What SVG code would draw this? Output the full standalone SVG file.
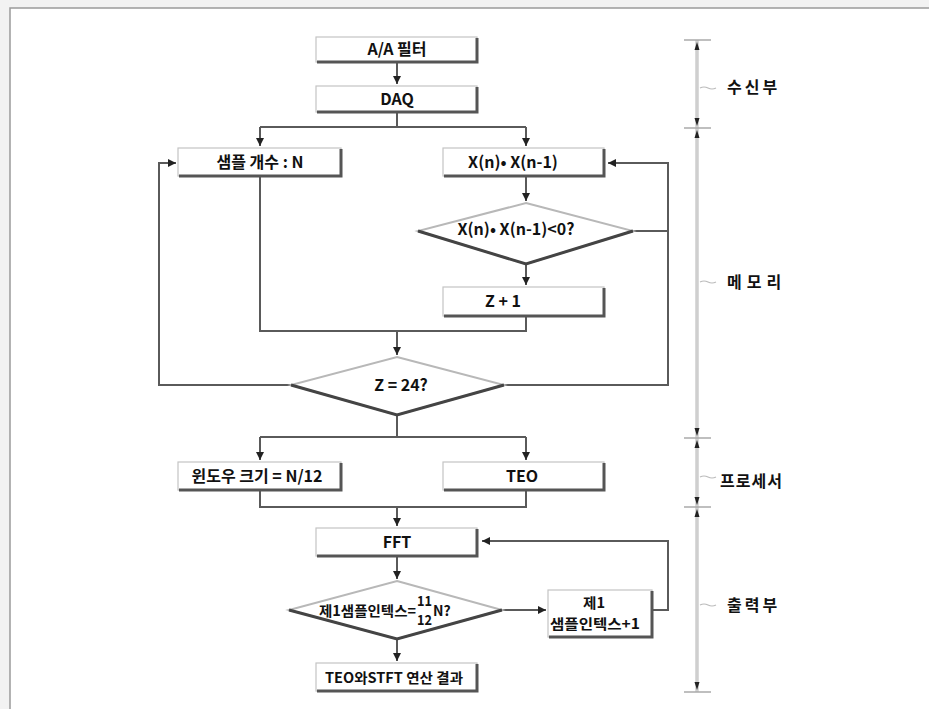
<svg xmlns="http://www.w3.org/2000/svg" width="929" height="709" viewBox="0 0 929 709">
<style>
.t{font-family:"Noto Sans CJK KR","Noto Sans",sans-serif;font-weight:bold;font-size:16px;fill:#111;text-anchor:middle}
.s{font-family:"Noto Sans CJK KR","Noto Sans",sans-serif;font-weight:bold;font-size:14px;fill:#111}
.lab{font-family:"Noto Sans CJK KR","Noto Sans",sans-serif;font-weight:bold;font-size:16px;fill:#111}
.box{fill:#fff;stroke:#c4c4c4;stroke-width:1.2}
.sh{fill:none;stroke:#555;stroke-width:3}
.c{fill:none;stroke:#5a5a5a;stroke-width:2}
.dl{fill:#fff;stroke:#b8b8b8;stroke-width:2}
.dd{fill:none;stroke:#444;stroke-width:3}
.tick{stroke:#aaa;stroke-width:1.5}
.til{fill:none;stroke:#bbb;stroke-width:1.2}
</style>
<defs>
<marker id="ah" viewBox="0 0 10 10" refX="10" refY="5" markerWidth="4" markerHeight="4" orient="auto" markerUnits="strokeWidth">
<path d="M0,0 L10,5 L0,10 z" fill="#222"/>
</marker>
</defs>
<rect x="0" y="0" width="929" height="709" fill="#f2f2f2"/>
<rect x="10" y="8" width="925" height="710" fill="#fff" stroke="#9a9a9a" stroke-width="1.5"/>

<g id="connectors">
<path class="c" d="M397,62 V84" marker-end="url(#ah)"/>
<path class="c" d="M397,112 V127 M260,127 H526"/>
<path class="c" d="M260,127 V146" marker-end="url(#ah)"/>
<path class="c" d="M526,127 V146" marker-end="url(#ah)"/>
<path class="c" d="M526,177 V201" marker-end="url(#ah)"/>
<path class="c" d="M633,231 H668 V163 H608" marker-end="url(#ah)"/>
<path class="c" d="M526,264 V285" marker-end="url(#ah)"/>
<path class="c" d="M260,177 V331 H526 V317"/>
<path class="c" d="M397,331 V355" marker-end="url(#ah)"/>
<path class="c" d="M291,385 H159 V163 H176" marker-end="url(#ah)"/>
<path class="c" d="M504,385 H668 V230"/>
<path class="c" d="M397,414 V437 M260,437 H526"/>
<path class="c" d="M260,437 V460" marker-end="url(#ah)"/>
<path class="c" d="M526,437 V460" marker-end="url(#ah)"/>
<path class="c" d="M260,491 V507 H526 V491"/>
<path class="c" d="M397,507 V526" marker-end="url(#ah)"/>
<path class="c" d="M397,557 V579" marker-end="url(#ah)"/>
<path class="c" d="M502,610 H546" marker-end="url(#ah)"/>
<path class="c" d="M653,610 H668 V541 H482" marker-end="url(#ah)"/>
<path class="c" d="M397,639 V661" marker-end="url(#ah)"/>
</g>

<g id="aa-filter">
<rect class="box" x="316" y="37" width="161" height="25"/>
<path class="sh" d="M477,38 V62 H317"/>
<text class="t" x="397" y="55">A/A 필터</text>
</g>
<g id="daq">
<rect class="box" x="316" y="86" width="161" height="26"/>
<path class="sh" d="M477,87 V112 H317"/>
<text class="t" x="397" y="105">DAQ</text>
</g>
<g id="sample-count">
<rect class="box" x="178" y="148" width="163" height="28"/>
<path class="sh" d="M341,149 V176 H179"/>
<text class="t" x="260" y="168">샘플 개수 : N</text>
</g>
<g id="xprod">
<rect class="box" x="443" y="148" width="161" height="28"/>
<path class="sh" d="M604,149 V176 H444"/>
<text class="t" x="513" y="168">X(n)• X(n-1)</text>
</g>
<g id="dec1">
<polygon class="dl" points="526,203 633,231 526,264 418,231"/>
<path class="dd" d="M418,231 L526,264 L633,231"/>
<text class="t" x="516" y="235">X(n)• X(n-1)&lt;0?</text>
</g>
<g id="zplus">
<rect class="box" x="443" y="287" width="161" height="29"/>
<path class="sh" d="M604,288 V316 H444"/>
<text class="t" x="503" y="307">Z + 1</text>
</g>
<g id="dec2">
<polygon class="dl" points="397,357 504,385 397,415 291,385"/>
<path class="dd" d="M291,385 L397,415 L504,385"/>
<text class="t" x="401" y="391">Z = 24?</text>
</g>
<g id="window">
<rect class="box" x="178" y="462" width="163" height="28"/>
<path class="sh" d="M341,463 V490 H179"/>
<text class="t" x="257" y="482">윈도우 크기 = N/12</text>
</g>
<g id="teo">
<rect class="box" x="443" y="462" width="161" height="28"/>
<path class="sh" d="M604,463 V490 H444"/>
<text class="t" x="522" y="482">TEO</text>
</g>
<g id="fft">
<rect class="box" x="316" y="528" width="161" height="28"/>
<path class="sh" d="M477,529 V556 H317"/>
<text class="t" x="397" y="548">FFT</text>
</g>
<g id="dec3">
<polygon class="dl" points="397,581 502,610 397,639 289,610"/>
<path class="dd" d="M289,610 L397,639 L502,610"/>
<text class="s" x="319" y="616" textLength="97" lengthAdjust="spacingAndGlyphs">제1샘플인텍스=</text>
<text class="s" x="417" y="606" textLength="15" lengthAdjust="spacingAndGlyphs">11</text>
<text class="s" x="417" y="625" textLength="15" lengthAdjust="spacingAndGlyphs">12</text>
<text class="s" x="433" y="616">N?</text>
</g>
<g id="inc-index">
<rect class="box" x="548" y="590" width="104" height="47"/>
<path class="sh" d="M652,591 V637 H549"/>
<text class="s" x="583" y="608" textLength="22" lengthAdjust="spacingAndGlyphs">제1</text>
<text class="s" x="550" y="629" textLength="90" lengthAdjust="spacingAndGlyphs">샘플인텍스+1</text>
</g>
<g id="result">
<rect class="box" x="316" y="663" width="161" height="28"/>
<path class="sh" d="M477,664 V691 H317"/>
<text class="s" x="325" y="683" textLength="138" lengthAdjust="spacingAndGlyphs">TEO와STFT 연산 결과</text>
</g>

<g id="scale">
<line x1="697" y1="40" x2="697" y2="692" stroke="#dadada" stroke-width="4"/>
<line x1="697" y1="40" x2="697" y2="692" stroke="#c4c4c4" stroke-width="1"/>
<line class="tick" x1="684" y1="40" x2="711" y2="40"/>
<line class="tick" x1="684" y1="128" x2="711" y2="128"/>
<line class="tick" x1="684" y1="438" x2="711" y2="438"/>
<line class="tick" x1="684" y1="507" x2="711" y2="507"/>
<line class="tick" x1="684" y1="692" x2="711" y2="692"/>
<g fill="#222">
<path d="M694.5,50 L697,42 L699.5,50 z"/>
<path d="M694.5,118 L697,126 L699.5,118 z"/>
<path d="M694.5,138 L697,130 L699.5,138 z"/>
<path d="M694.5,428 L697,436 L699.5,428 z"/>
<path d="M694.5,448 L697,440 L699.5,448 z"/>
<path d="M694.5,497 L697,505 L699.5,497 z"/>
<path d="M694.5,517 L697,509 L699.5,517 z"/>
<path d="M694.5,682 L697,690 L699.5,682 z"/>
</g>
<path class="til" d="M700,88 q4,-2 8,0 t8,0"/>
<path class="til" d="M700,282 q4,-2 8,0 t8,0"/>
<path class="til" d="M700,477 q4,-2 8,0 t8,0"/>
<path class="til" d="M700,605 q4,-2 8,0 t8,0"/>
<text class="lab" x="727" y="93" style="letter-spacing:3px">수신부</text>
<text class="lab" x="727" y="288" style="letter-spacing:5px">메모리</text>
<text class="lab" x="720" y="487" style="letter-spacing:1px">프로세서</text>
<text class="lab" x="727" y="611" style="letter-spacing:3px">출력부</text>
</g>
</svg>
